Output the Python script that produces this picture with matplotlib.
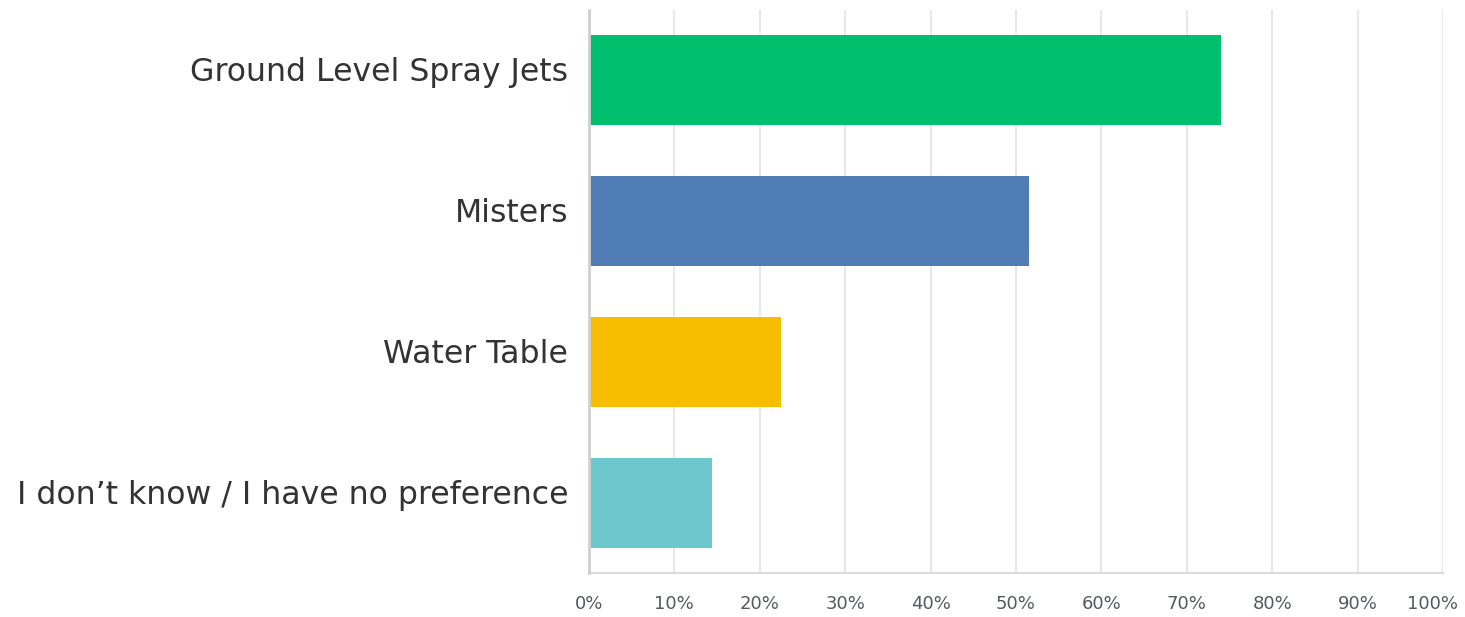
import numpy as np
import matplotlib.pyplot as plt
import matplotlib.transforms as mtransforms

# Datos del grafico
categorias = ['Ground Level Spray Jets', 'Misters', 'Water Table',
              'I don\u2019t know / I have no preference']
valores = [74.0, 51.5, 22.5, 14.4]
colores = ['#00c070', '#4f7cb5', '#f7be00', '#6cc8cc']
ticks = np.arange(0, 101, 10)
tick_labels = [f'{t}%' for t in ticks]

fig = plt.figure(figsize=(14.65, 6.17), dpi=100)
ax = fig.add_axes([0.402, 0.0713, 0.583, 0.913])

y = np.arange(len(categorias))
ax.barh(y, valores, height=0.64, color=colores, zorder=3)
ax.set_ylim(len(categorias) - 0.5, -0.5)
ax.set_xlim(0, 100)

ax.set_xticks(ticks)
ax.set_xticklabels(tick_labels, fontsize=13, color='#555a60', family='DejaVu Sans')
ax.set_yticks(y)
ax.set_yticklabels(categorias, fontsize=22.7, color='#333333', family='DejaVu Sans')
ax.tick_params(axis='x', length=0, pad=16)
ax.tick_params(axis='y', length=0, pad=15)

# subir un poco las etiquetas de categoria
sube = mtransforms.ScaledTranslation(0, 11 / 100, fig.dpi_scale_trans)
for lbl in ax.get_yticklabels():
    lbl.set_transform(lbl.get_transform() + sube)
# mover el 100% para que quepa
izq = mtransforms.ScaledTranslation(-11 / 100, 0, fig.dpi_scale_trans)
ultimo = ax.get_xticklabels()[-1]
ultimo.set_transform(ultimo.get_transform() + izq)

ax.grid(axis='x', color='#e8e8e8', linewidth=1.5, zorder=0)
for lado in ['top', 'right']:
    ax.spines[lado].set_visible(False)
ax.spines['left'].set_color('#d0d0d0')
ax.spines['left'].set_linewidth(2)
ax.spines['bottom'].set_color('#dcdcdc')
ax.spines['bottom'].set_linewidth(1.5)
ax.spines['left'].set_zorder(4)

fig.savefig('out.png', dpi=100)
